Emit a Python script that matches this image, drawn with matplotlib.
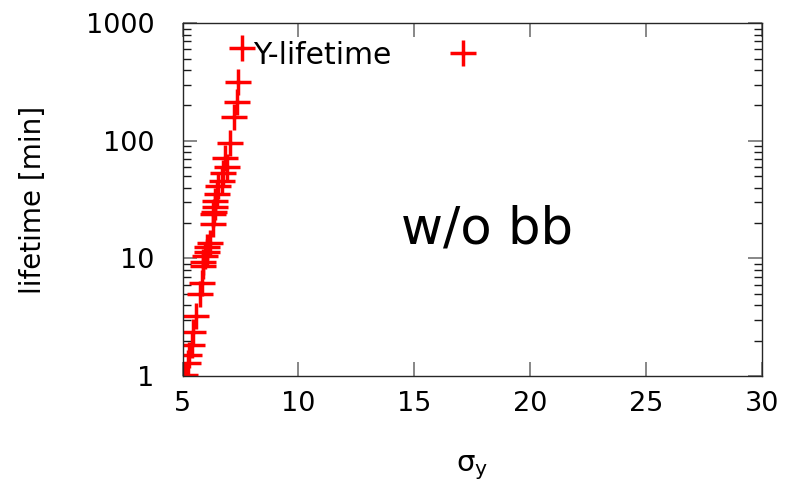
import matplotlib
matplotlib.use("Agg")
import matplotlib.pyplot as plt
from matplotlib.ticker import LogLocator, NullFormatter, FixedLocator

sigma_y = [7.58, 7.41, 7.34, 7.22, 7.05, 6.83, 6.90, 6.76, 6.69, 6.54, 6.47, 6.40,
           6.40, 6.38, 6.33, 6.33, 6.19, 6.04, 6.04, 5.97, 5.90, 5.90, 5.83, 5.75,
           5.58, 5.47, 5.40, 5.29, 5.22, 5.12]
lifetime = [612, 318, 215, 161, 95, 71, 60, 53, 46, 41, 35, 31,
            27.6, 24.7, 24, 19.5, 13.5, 12.4, 11.4, 10.4, 9.4, 8.7, 6.15, 4.96,
            3.24, 2.39, 1.84, 1.51, 1.30, 1.02]

xticks = [5, 10, 15, 20, 25, 30]
yticks = [1, 10, 100, 1000]
ytick_labels = ["1", "10", "100", "1000"]

fig = plt.figure(figsize=(7.87, 4.88), dpi=100)
ax = fig.add_axes([0.2319, 0.2295, 0.9682 - 0.2319, 0.9523 - 0.2295])

ax.plot(sigma_y, lifetime, linestyle="none", marker="+", color="red",
        markersize=19, markeredgewidth=2.5, label="Y-lifetime")

ax.set_yscale("log")
ax.set_xlim(5, 30)
ax.set_ylim(1, 1000)
ax.xaxis.set_major_locator(FixedLocator(xticks))
ax.set_xticklabels([str(t) for t in xticks])
ax.yaxis.set_major_locator(FixedLocator(yticks))
ax.set_yticklabels(ytick_labels)
ax.yaxis.set_minor_locator(LogLocator(base=10, subs=range(2, 10)))
ax.yaxis.set_minor_formatter(NullFormatter())

ax.tick_params(axis="both", which="major", direction="in", length=10, width=1.2,
               color="0.45", labelsize=19.5, top=True, right=True, pad=11)
ax.tick_params(axis="both", which="minor", direction="in", length=5.5, width=1.0,
               color="0.1", top=True, right=True)
ax.tick_params(axis="y", which="major", pad=20)
for s in ax.spines.values():
    s.set_linewidth(1.0)
    s.set_color("0.15")

ax.set_xlabel(r"σ$_{\mathregular{y}}$", fontsize=21, labelpad=26)
ax.set_ylabel("lifetime [min]", fontsize=20, labelpad=28)

ax.text(0.525, 0.414, "w/o bb", transform=ax.transAxes, fontsize=37,
        ha="center", va="center")

leg = ax.legend(loc="center left", bbox_to_anchor=(0.1217, 0.910), markerfirst=False,
                frameon=False, fontsize=21.5, handlelength=2.0, handletextpad=1.4,
                borderaxespad=0, borderpad=0)

fig.savefig("out.png", dpi=100)
